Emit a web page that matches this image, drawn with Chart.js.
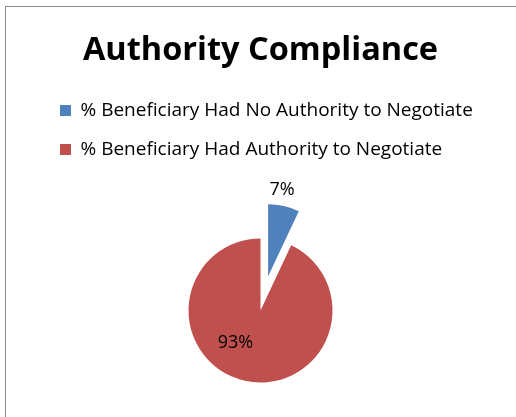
<!DOCTYPE html>
<html>
<head>
<meta charset="utf-8">
<script src="https://cdn.jsdelivr.net/npm/chart.js@4/dist/chart.umd.min.js"></script>
<style>
  html, body { margin: 0; padding: 0; background: #ffffff; overflow: hidden; }
  #wrap { position: relative; width: 516px; height: 417px; overflow: hidden; }
</style>
</head>
<body>
<div id="wrap"><canvas id="c" width="516" height="452"></canvas></div>
<script>
const titleText = "Authority Compliance";
const categories = [
  "% Beneficiary Had No Authority to Negotiate",
  "% Beneficiary Had Authority to Negotiate"
];
const values = [7, 93];
const colors = ["#4F81BD", "#C0504D"];
const explodePx = [35, 0];

const FONT = "'Open Sans', Lato, sans-serif";

const frame = {
  id: 'frame',
  beforeDraw(chart) {
    const ctx = chart.ctx;
    ctx.save();
    ctx.fillStyle = '#ffffff';
    ctx.fillRect(0, 0, chart.width, chart.height);
    ctx.strokeStyle = '#8a8a8a';
    ctx.lineWidth = 1;
    ctx.strokeRect(5.5, 6.5, 700, 700);
    ctx.restore();
  }
};

// Explode slices by translating the context while Chart.js draws the arc
const explodePlugin = {
  id: 'explode',
  afterDatasetUpdate(chart, args) {
    args.meta.data.forEach((arc, i) => {
      const d = explodePx[i] || 0;
      if (!d || arc._exploded) return;
      const orig = Object.getPrototypeOf(arc).draw;
      arc.draw = function (ctx, area) {
        const mid = (this.startAngle + this.endAngle) / 2;
        ctx.save();
        ctx.translate(Math.cos(mid) * d, Math.sin(mid) * d);
        orig.call(this, ctx, area);
        ctx.restore();
      };
      arc._exploded = true;
    });
  }
};

const labelPlugin = {
  id: 'pctLabels',
  afterDatasetsDraw(chart) {
    const ctx = chart.ctx;
    const meta = chart.getDatasetMeta(0);
    const total = values.reduce((a, b) => a + b, 0);
    ctx.save();
    ctx.font = "18px " + FONT;
    ctx.fillStyle = '#000000';
    ctx.textAlign = 'center';
    ctx.textBaseline = 'middle';
    meta.data.forEach((arc, i) => {
      const p = arc.getProps(['x', 'y', 'startAngle', 'endAngle', 'outerRadius'], true);
      const mid = (p.startAngle + p.endAngle) / 2;
      const txt = Math.round(values[i] / total * 100) + '%';
      let lx, ly;
      if (i === 0) {
        const a = mid - 0.045;
        const d = explodePx[i] + p.outerRadius + 17;
        lx = p.x + Math.cos(a) * d;
        ly = p.y + Math.sin(a) * d;
      } else {
        const a = mid + 0.45;
        const d = p.outerRadius * 0.56;
        lx = p.x + Math.cos(a) * d;
        ly = p.y + Math.sin(a) * d;
      }
      ctx.fillText(txt, lx, ly + 1);
    });
    ctx.restore();
  }
};

new Chart(document.getElementById('c'), {
  type: 'pie',
  data: {
    labels: categories,
    datasets: [{
      data: values,
      backgroundColor: colors,
      borderWidth: 0,
      clip: false
    }]
  },
  options: {
    responsive: false,
    animation: false,
    radius: 72,
    layout: { padding: { left: 40, right: 35, top: 0, bottom: 0 } },
    plugins: {
      tooltip: { enabled: false },
      title: {
        display: true,
        text: titleText,
        color: '#000000',
        font: { family: FONT, size: 32.5, weight: 'bold' },
        padding: { top: 31, bottom: 11 }
      },
      legend: {
        display: true,
        position: 'top',
        align: 'start',
        labels: {
          color: '#000000',
          boxWidth: 11,
          boxHeight: 11,
          padding: 20,
          font: { family: FONT, size: 19 }
        }
      }
    }
  },
  plugins: [frame, explodePlugin, labelPlugin]
});
</script>
</body>
</html>
